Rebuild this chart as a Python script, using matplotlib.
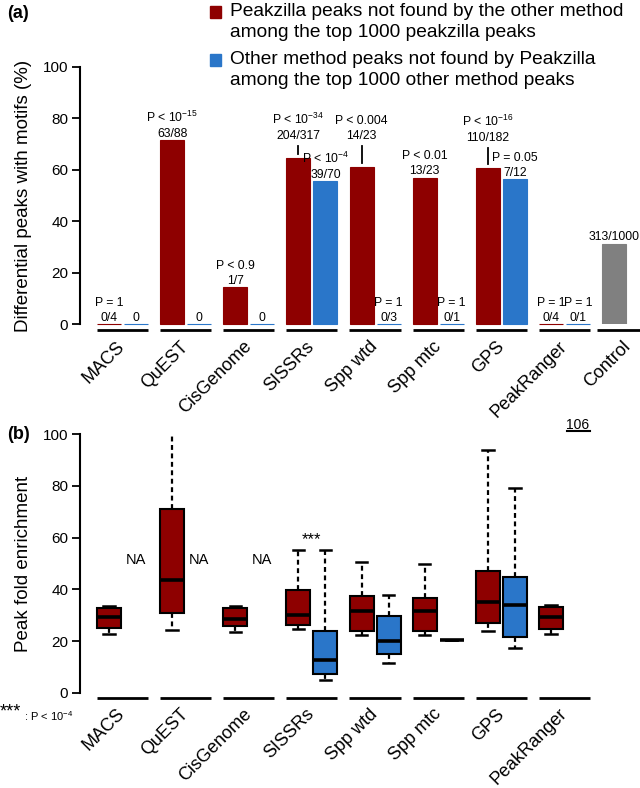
import matplotlib
matplotlib.use('agg')
import matplotlib.pyplot as plt
from matplotlib.patches import Rectangle
from matplotlib.transforms import ScaledTranslation

plt.rcParams['font.family'] = ['Liberation Sans', 'DejaVu Sans']
plt.rcParams['mathtext.fontset'] = 'custom'
plt.rcParams['mathtext.rm'] = 'Liberation Sans'
plt.rcParams['mathtext.it'] = 'Liberation Sans:italic'
plt.rcParams['mathtext.bf'] = 'Liberation Sans:bold'

RED = '#8e0000'
BLUE = '#2a76c9'
GREY = '#808080'

methods = ['MACS', 'QuEST', 'CisGenome', 'SISSRs', 'Spp wtd', 'Spp mtc', 'GPS', 'PeakRanger']

# (a) % of differential peaks with motifs
pz_pct = [0, 71.6, 14.3, 64.5, 61.0, 57.0, 60.6, 0]
other_pct = [0, 0, 0, 55.7, 0, 0, 56.4, 0]
pz_frac = ['0/4', '63/88', '1/7', '204/317', '14/23', '13/23', '110/182', '0/4']
other_frac = ['0', '0', '0', '39/70', '0/3', '0/1', '7/12', '0/1']
pz_p = ['P = 1', r'P < 10$^{-15}$', 'P < 0.9', r'P < 10$^{-34}$', 'P < 0.004',
        'P < 0.01', r'P < 10$^{-16}$', 'P = 1']
other_p = [None, None, None, r'P < 10$^{-4}$', 'P = 1', 'P = 1', 'P = 0.05', 'P = 1']
pz_lift = [None, None, None, 71.9, 71.9, None, 71.2, None]
control_pct = 31.3
control_frac = '313/1000'

# (b) peak fold enrichment boxes
pz_whislo = [22.8, 24.3, 23.4, 24.6, 22.4, 22.4, 23.8, 22.7]
pz_q1 = [25.0, 31.0, 26.0, 26.3, 23.9, 23.9, 27.2, 24.7]
pz_med = [29.5, 43.6, 28.6, 30.1, 31.8, 31.8, 35.0, 29.5]
pz_q3 = [32.9, 70.9, 32.9, 39.8, 37.6, 36.5, 47.1, 33.1]
pz_whishi = [33.7, 106, 33.7, 55.2, 50.7, 49.7, 93.8, 34.0]
other_whislo = [None, None, None, 5.2, 11.6, 20.5, 17.4, None]
other_q1 = [None, None, None, 7.4, 15.1, 20.5, 21.7, None]
other_med = [None, None, None, 12.9, 20.2, 20.5, 34.0, None]
other_q3 = [None, None, None, 24.1, 29.8, 20.5, 44.7, None]
other_whishi = [None, None, None, 55.2, 37.8, 20.5, 79.0, None]

OFF = 0.214
W = 0.38

fig = plt.figure(figsize=(6.4, 7.88), dpi=100)
ax1 = fig.add_axes([80 / 640, 1 - 324 / 788, 560 / 640, 257 / 788])
ax2 = fig.add_axes([80 / 640, 1 - 693 / 788, 560 / 640, 259 / 788])


def style_axis(ax, labels, pad):
    ax.set_xlim(-0.673, 8.196)
    ax.set_ylim(0, 100)
    for s in ['top', 'right', 'bottom']:
        ax.spines[s].set_visible(False)
    ax.spines['left'].set_linewidth(1.5)
    ax.spines['left'].set_bounds(0, 100)
    ax.set_yticks([0, 20, 40, 60, 80, 100])
    ax.tick_params(axis='y', length=5.5, width=1.3, labelsize=11, pad=3)
    ax.set_xticks(range(len(labels)))
    ax.set_xticklabels(labels, rotation=45, ha='right', va='top', fontsize=13)
    ax.tick_params(axis='x', length=0, pad=pad)
    shift = ScaledTranslation(6 / 100, 0, fig.dpi_scale_trans)
    for lab in ax.get_xticklabels():
        lab.set_transform(lab.get_transform() + shift)


# ---- panel (a)
xs = list(range(len(methods)))
ax1.bar([x - OFF for x in xs], pz_pct, width=W, color=RED, edgecolor=RED, lw=0.8, clip_on=False)
ax1.bar([x + OFF for x in xs], other_pct, width=W, color=BLUE, edgecolor=BLUE, lw=0.8, clip_on=False)
ax1.bar(8 - OFF, control_pct, width=W, color=GREY, edgecolor=GREY, lw=0.8)


def bar_label(ax, x, top, frac, p, lift=None):
    base = top + 1.3 if lift is None else lift
    ax.text(x, base, frac, ha='center', va='baseline', fontsize=8.8)
    if p:
        ax.text(x, base + 5.8, p, ha='center', va='baseline', fontsize=8.8)
    if lift is not None:
        ax.plot([x, x], [base - 2.8, top + 1.8], color='k', lw=1.3)


for i in xs:
    bar_label(ax1, i - OFF, pz_pct[i], pz_frac[i], pz_p[i], pz_lift[i])
    bar_label(ax1, i + OFF, other_pct[i], other_frac[i], other_p[i])
bar_label(ax1, 8 - OFF, control_pct, control_frac, None)

ax1.hlines([-2.33] * len(xs), [x - 0.405 for x in xs], [x + 0.405 for x in xs],
           color='k', lw=2, clip_on=False)
ax1.hlines(-2.33, 7.52, 8.2, color='k', lw=2, clip_on=False)
style_axis(ax1, methods + ['Control'], 10)
ax1.set_ylabel('Differential peaks with motifs (%)', fontsize=13.5)
ax1.yaxis.set_label_coords(-0.085, 0.5)

# ---- panel (b)
def stats(lo, q1, med, q3, hi):
    return [dict(whislo=a, q1=b, med=c, q3=d, whishi=e, fliers=[])
            for a, b, c, d, e in zip(lo, q1, med, q3, hi) if a is not None]


box_kw = dict(widths=W, capwidths=0.18, patch_artist=True, showfliers=False,
              whiskerprops=dict(color='k', lw=1.6, linestyle=(0, (2.2, 1.6))),
              capprops=dict(color='k', lw=1.8),
              medianprops=dict(color='k', lw=2.6))
pz_stats = stats(pz_whislo, pz_q1, pz_med, pz_q3, pz_whishi)
b1 = ax2.bxp(pz_stats, positions=[x - OFF for x in xs], **box_kw)
for p in b1['boxes']:
    p.set(facecolor=RED, edgecolor='k', lw=1.5)
ot_pos = [x + OFF for x in xs if other_q1[x] is not None]
b2 = ax2.bxp(stats(other_whislo, other_q1, other_med, other_q3, other_whishi),
             positions=ot_pos, **box_kw)
for p in b2['boxes']:
    p.set(facecolor=BLUE, edgecolor='k', lw=1.5)

for i in xs:
    if other_q1[i] is None and i < 3:
        ax2.text(i + OFF, 51.4, 'NA', ha='center', va='center', fontsize=10.5)
ax2.text(3, 59.3, '***', ha='center', va='center', fontsize=12)
ax2.text(7.21, 103.5, '106', ha='center', va='center', fontsize=10)
ax2.plot([7.04, 7.40], [101.1, 101.1], color='k', lw=1.5, clip_on=False)

ax2.hlines([-1.93] * len(xs), [x - 0.405 for x in xs], [x + 0.405 for x in xs],
           color='k', lw=2, clip_on=False)
style_axis(ax2, methods, 9)
ax2.set_ylabel('Peak fold enrichment', fontsize=13.5)
ax2.yaxis.set_label_coords(-0.085, 0.5)

# ---- panel letters, legend, footnote
fig.text(7 / 640, 1 - 13 / 788, '(a)', fontsize=13, fontweight='bold', va='center')
fig.text(7 / 640, 1 - 435 / 788, '(b)', fontsize=13, fontweight='bold', va='center')

leg = [(RED, 12, 'Peakzilla peaks not found by the other method\namong the top 1000 peakzilla peaks'),
       (BLUE, 60, 'Other method peaks not found by Peakzilla\namong the top 1000 other method peaks')]
for col, yc, txt in leg:
    fig.patches.append(Rectangle((210 / 640, 1 - (yc + 5.5) / 788), 11 / 640, 11 / 788,
                                 transform=fig.transFigure, color=col))
    fig.text(230 / 640, 1 - (yc + 10) / 788, txt, fontsize=13.8, va='center',
             linespacing=1.25)

fig.text(0, 1 - 712 / 788, '***', fontsize=13, va='center')
fig.text(24 / 640, 1 - 716 / 788, r': P < 10$^{-4}$', fontsize=8, va='center')

fig.savefig('out.png', dpi=100)
